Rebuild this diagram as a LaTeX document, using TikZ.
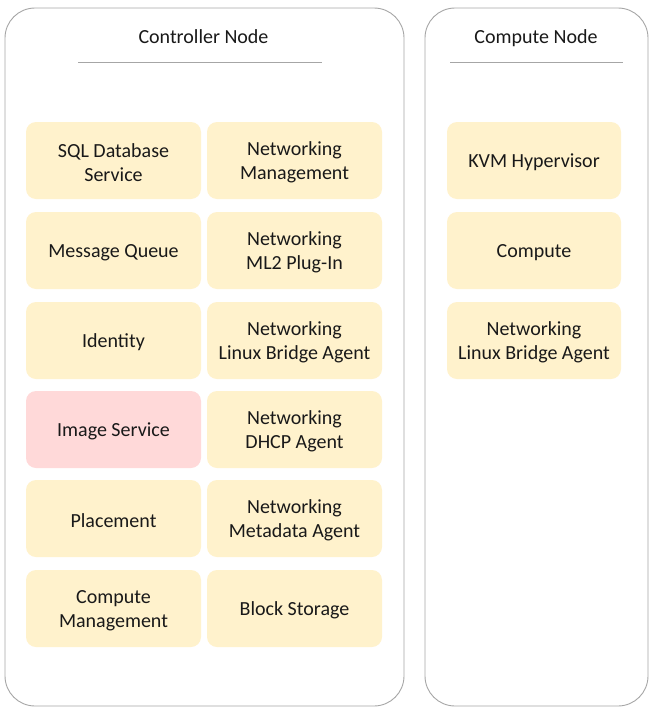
\documentclass[tikz,border=0pt]{standalone}
\usepackage{fontspec}
\setmainfont{Carlito}
\definecolor{boxfill}{HTML}{FFF2CC}
\definecolor{pinkfill}{HTML}{FFD9D9}
\definecolor{framegray}{HTML}{A6A6A6}
\definecolor{rulegray}{HTML}{A6A6A6}
\begin{document}
\begin{tikzpicture}[x=1pt,y=-1pt,
  container/.style={draw=framegray,line width=0.9pt,rounded corners=30pt,fill=white},
  svctext/.style={align=center,font=\fontsize{20}{24}\selectfont,inner sep=0pt,
    text=black!90,yshift=-2pt},
  svc/.style={fill=boxfill,rounded corners=10pt,minimum width=175pt,minimum height=77pt,
    inner sep=0pt,label={[svctext]center:{#1}}},
  pinksvc/.style={svc={#1},fill=pinkfill},
  title/.style={font=\fontsize{20}{24}\selectfont,text=black!90},
  rulerline/.style={draw=rulegray,line width=0.9pt}]
\useasboundingbox (0,0) rectangle (658,718);
% node frames
\draw[container] (5,8) rectangle (404,706);
\draw[container] (425,8) rectangle (648,706);
% titles
\node[title] (ctitle) at (203.5,37) {Controller Node};
\node[title] (ntitle) at (536,38) {Compute Node};
\draw[rulerline] (78,62) -- (322,62);
\draw[rulerline] (450,62) -- (623,62);
% controller services
\node[svc={SQL Database\\Service}] (sql) at (113.5,160.5) {};
\node[svc={Networking\\Management}] (netmgmt) at (294.5,160.5) {};
\node[svc={Message Queue}] (mq) at (113.5,250.5) {};
\node[svc={Networking\\ML2 Plug-In}] (ml2) at (294.5,250.5) {};
\node[svc={Identity}] (ident) at (113.5,340.5) {};
\node[svc={Networking\\Linux Bridge Agent}] (lba) at (294.5,340.5) {};
\node[pinksvc={Image Service}] (image) at (113.5,429.5) {};
\node[svc={Networking\\DHCP Agent}] (dhcp) at (294.5,429.5) {};
\node[svc={Placement}] (place) at (113.5,518.5) {};
\node[svc={Networking\\Metadata Agent}] (meta) at (294.5,518.5) {};
\node[svc={Compute\\Management}] (cmgmt) at (113.5,608.5) {};
\node[svc={Block Storage}] (block) at (294.5,608.5) {};
% compute services
\node[svc={KVM Hypervisor},minimum width=174pt] (kvm) at (534,160.5) {};
\node[svc={Compute},minimum width=174pt] (comp) at (534,250.5) {};
\node[svc={Networking\\Linux Bridge Agent},minimum width=174pt] (clba) at (534,340.5) {};
\end{tikzpicture}
\end{document}
